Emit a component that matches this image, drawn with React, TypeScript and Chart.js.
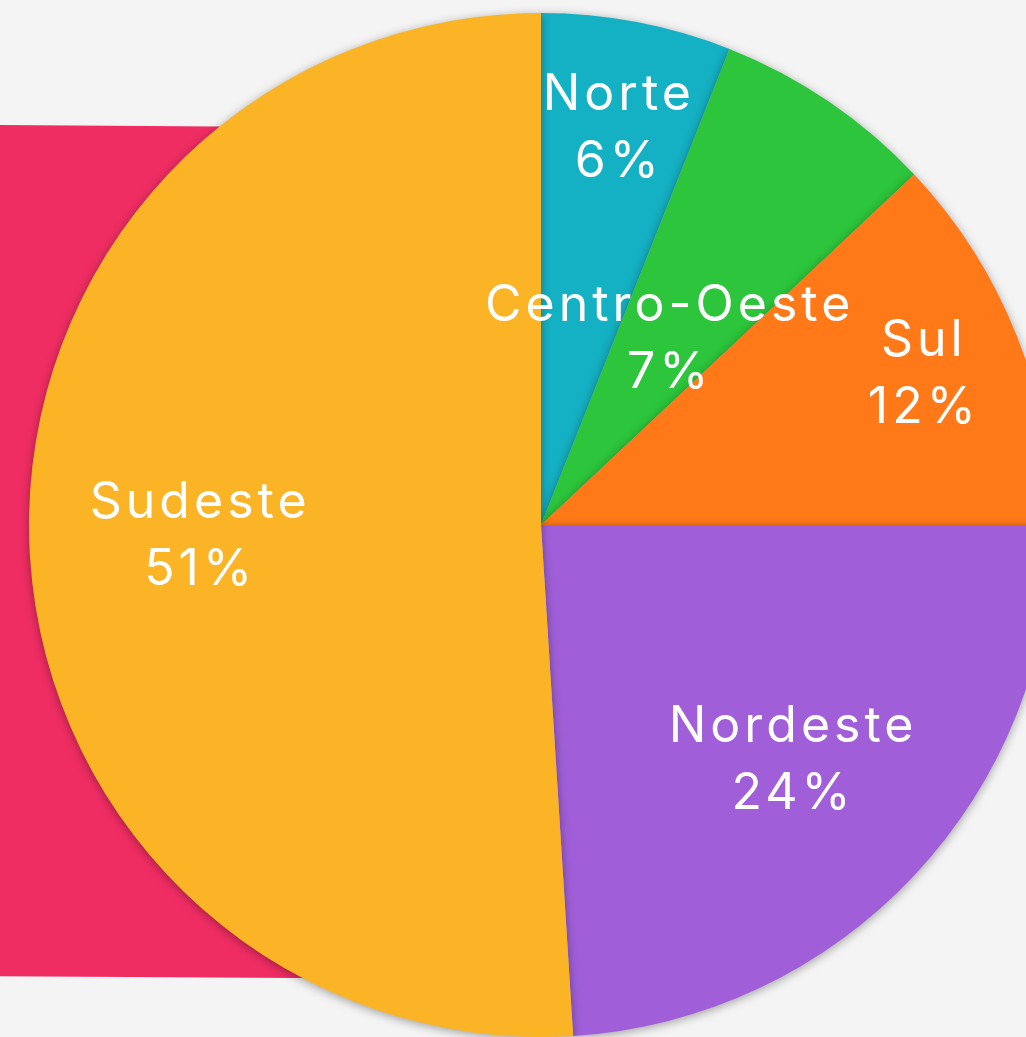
import React, { useEffect, useRef } from "react";
import { Chart, registerables } from "chart.js";

Chart.register(...registerables);

const regions = ["Norte", "Centro-Oeste", "Sul", "Nordeste", "Sudeste"];
const shares = [6, 7, 12, 24, 51];
const sliceColors = ["#14B0C3", "#2CC53B", "#FF7918", "#A05FD8", "#FAB426"];

const labelRadii = [0.79, 0.44, 0.8, 0.67, 0.67];

const sliceLabels = {
  id: "sliceLabels",
  afterDatasetsDraw(chart: any) {
    const ctx = chart.ctx;
    const meta = chart.getDatasetMeta(0);
    const data = chart.data.datasets[0].data as number[];
    const labels = chart.data.labels as string[];
    ctx.save();
    ctx.shadowColor = "transparent";
    ctx.fillStyle = "#FFFFFF";
    ctx.textAlign = "center";
    ctx.textBaseline = "middle";
    ctx.font = "400 50px Inter";
    (ctx as any).letterSpacing = "4px";
    meta.data.forEach((arc: any, i: number) => {
      const p = arc.getProps(["x", "y", "startAngle", "endAngle", "outerRadius"], true);
      const mid = (p.startAngle + p.endAngle) / 2;
      const r = p.outerRadius * labelRadii[i];
      const cx = p.x + Math.cos(mid) * r + 2;
      const cy = p.y + Math.sin(mid) * r;
      ctx.fillText(labels[i], cx, cy - 33);
      ctx.fillText(data[i] + "%", cx, cy + 34);
    });
    ctx.restore();
  },
};

const sliceShadow = {
  id: "sliceShadow",
  beforeDatasetsDraw(chart: any) {
    const ctx = chart.ctx;
    ctx.save();
    ctx.shadowColor = "rgba(0,0,0,0.35)";
    ctx.shadowBlur = 10;
    ctx.shadowOffsetX = 0;
    ctx.shadowOffsetY = 2;
  },
  afterDatasetsDraw(chart: any) {
    chart.ctx.restore();
  },
};

export default function App() {
  const ref = useRef<HTMLCanvasElement>(null);
  useEffect(() => {
    document.body.style.margin = "0";
    const chart = new Chart(ref.current!, {
      type: "pie",
      data: {
        labels: regions,
        datasets: [
          {
            data: shares,
            backgroundColor: sliceColors,
            borderWidth: 0,
          },
        ],
      },
      options: {
        responsive: false,
        animation: false,
        layout: { padding: 38 },
        plugins: {
          legend: { display: false },
          tooltip: { enabled: false },
        },
      },
      plugins: [sliceShadow, sliceLabels],
    });
    return () => chart.destroy();
  }, []);

  return (
    <div
      style={{
        position: "fixed",
        left: 0,
        top: 0,
        width: 1026,
        height: 1037,
        overflow: "hidden",
        background: "#F5F4F4",
      }}
    >
      <div
        style={{
          position: "absolute",
          left: -20,
          top: 125,
          width: 360,
          height: 851,
          background: "#EF2D63",
          transform: "rotate(0.35deg)",
          transformOrigin: "0 0",
        }}
      />
      <canvas
        ref={ref}
        width={1100}
        height={1100}
        style={{ position: "absolute", left: -9, top: -25 }}
      />
    </div>
  );
}
